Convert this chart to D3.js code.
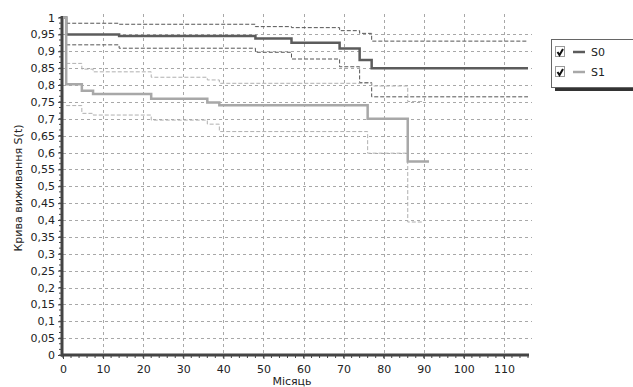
<!DOCTYPE html>
<html><head><meta charset="utf-8">
<script src="https://cdn.jsdelivr.net/npm/d3@7"></script>
<style>body{margin:0;background:#fff;}svg{display:block;font-family:"DejaVu Sans",Verdana,sans-serif;}</style>
</head><body><svg id="c" width="633" height="387"></svg>
<script>
// ---- data ----
const xTicks = [0,10,20,30,40,50,60,70,80,90,100,110];
const yTicks = [0,0.05,0.1,0.15,0.2,0.25,0.3,0.35,0.4,0.45,0.5,0.55,0.6,0.65,0.7,0.75,0.8,0.85,0.9,0.95,1];
const seriesNames = ["S0","S1"];
const s0Times  = [0, 0.8, 14, 48, 57, 69, 74, 77, 116];
const s0Values = [1, 0.950, 0.945, 0.938, 0.925, 0.908, 0.874, 0.850, 0.850];
const s0UpTimes  = [0.8, 14, 48, 57, 69, 74, 77, 116];
const s0UpValues = [0.983, 0.980, 0.973, 0.970, 0.961, 0.953, 0.930, 0.930];
const s0LoValues = [0.919, 0.909, 0.897, 0.877, 0.854, 0.807, 0.765, 0.765];
const s1Times  = [0, 0.8, 4.7, 7.5, 22, 36, 39, 76, 86, 91.3];
const s1Values = [1, 0.802, 0.783, 0.773, 0.759, 0.748, 0.740, 0.700, 0.573, 0.573];
const s1UpTimes  = [0.8, 4.7, 7.5, 22, 36, 39, 77, 86, 90];
const s1UpValues = [0.864, 0.847, 0.839, 0.823, 0.815, 0.805, 0.797, 0.751, 0.751];
const s1LoTimes  = [0.8, 4.7, 7.5, 22, 36, 39, 76, 86, 90];
const s1LoValues = [0.739, 0.716, 0.711, 0.696, 0.684, 0.662, 0.598, 0.394, 0.394];
const yLabel = "Крива виживання S(t)";
const xLabel = "Місяць";

// ---- chart ----
const svg = d3.select("#c");
const x = d3.scaleLinear().domain([0,116]).range([63,528]);
const y = d3.scaleLinear().domain([0,1]).range([355,17.5]);
const fmt = v => String(+v.toFixed(2)).replace(".", ",");

// grid
const g = svg.append("g");
g.selectAll(".vg").data(xTicks.filter(d=>d>0)).join("line")
  .attr("x1",d=>Math.round(x(d))+0.5).attr("x2",d=>Math.round(x(d))+0.5)
  .attr("y1",14).attr("y2",355)
  .attr("stroke","#a8a8a8").attr("stroke-dasharray","3,3").attr("stroke-width",1);
g.selectAll(".hg").data(yTicks.filter(d=>d>0 && d<1)).join("line")
  .attr("y1",d=>Math.round(y(d))+0.5).attr("y2",d=>Math.round(y(d))+0.5)
  .attr("x1",63).attr("x2",532)
  .attr("stroke","#a8a8a8").attr("stroke-dasharray","3,3").attr("stroke-width",1);

// axes
const xAxis = d3.axisBottom(x).tickValues(xTicks).tickFormat(d=>d).tickSize(4).tickPadding(6);
const gx = svg.append("g").attr("transform","translate(0,355)").call(xAxis);
const xMinor = d3.range(0,117,2);
gx.selectAll(".mn").data(xMinor).join("line").attr("class","mn")
  .attr("x1",d=>x(d)).attr("x2",d=>x(d)).attr("y1",0).attr("y2",3).attr("stroke","#444");
const yAxis = d3.axisLeft(y).tickValues(yTicks).tickFormat(fmt).tickSize(4).tickPadding(3);
const gy = svg.append("g").attr("transform","translate(62,0)").call(yAxis);
const yMinor = d3.range(0,61).map(i=>i/60);
gy.selectAll(".mn").data(yMinor).join("line").attr("class","mn")
  .attr("x1",-3).attr("x2",0).attr("y1",d=>y(d)).attr("y2",d=>y(d)).attr("stroke","#444");
[gx,gy].forEach(a=>{
  a.select(".domain").remove();
  a.selectAll(".tick line").attr("stroke","#444");
  a.selectAll(".tick text").attr("fill","#222").style("font-size","11px").style("font-family","DejaVu Sans, Verdana, sans-serif");
});
svg.append("line").attr("x1",62).attr("x2",62).attr("y1",16).attr("y2",356.5).attr("stroke","#444").attr("stroke-width",3);
svg.append("line").attr("x1",61).attr("x2",529).attr("y1",355).attr("y2",355).attr("stroke","#444").attr("stroke-width",3);

// lines
const line = d3.line().x(d=>x(d[0])).y(d=>y(d[1])).curve(d3.curveStepAfter);
const zip = (t,v)=>t.map((ti,i)=>[ti,v[i]]);
function draw(data,color,w,dash){
  svg.append("path").datum(data).attr("d",line).attr("fill","none")
    .attr("stroke",color).attr("stroke-width",w).attr("stroke-dasharray",dash||null);
}
draw(zip(s0UpTimes,s0UpValues),"#555",1,"4,2");
draw(zip(s0UpTimes,s0LoValues),"#555",1,"4,2");
draw(zip(s1UpTimes,s1UpValues),"#b0b0b0",1,"4,2");
draw(zip(s1LoTimes,s1LoValues),"#b0b0b0",1,"4,2");
draw(zip(s0Times,s0Values),"#5c5c5c",2.5);
draw(zip(s1Times,s1Values),"#a8a8a8",2.5);

// labels
svg.append("text").attr("transform","translate(22,188) rotate(-90)").attr("text-anchor","middle")
  .style("font-size","11px").attr("fill","#222").text(yLabel);
svg.append("text").attr("x",292).attr("y",385).attr("text-anchor","middle")
  .style("font-size","11px").attr("fill","#222").text(xLabel);

// legend
const lg = svg.append("g");
lg.append("rect").attr("x",555).attr("y",43).attr("width",90).attr("height",48).attr("fill","#333");
lg.append("rect").attr("x",551.5).attr("y",39.5).attr("width",90).attr("height",48).attr("fill","#fff").attr("stroke","#666");
const lcol = ["#5c5c5c","#a8a8a8"];
seriesNames.forEach((n,i)=>{
  const cy = 52 + i*20;
  lg.append("rect").attr("x",555.5).attr("y",cy-5.5).attr("width",9).attr("height",10).attr("fill","#fff").attr("stroke","#999");
  lg.append("path").attr("d",`M557.5,${cy} L559.5,${cy+3} L563,${cy-3}`).attr("fill","none").attr("stroke","#111").attr("stroke-width",2);
  lg.append("line").attr("x1",573).attr("x2",585).attr("y1",cy).attr("y2",cy).attr("stroke",lcol[i]).attr("stroke-width",2.5);
  lg.append("text").attr("x",591).attr("y",cy+4).style("font-size","11px").attr("fill","#222").text(n);
});
</script></body></html>
